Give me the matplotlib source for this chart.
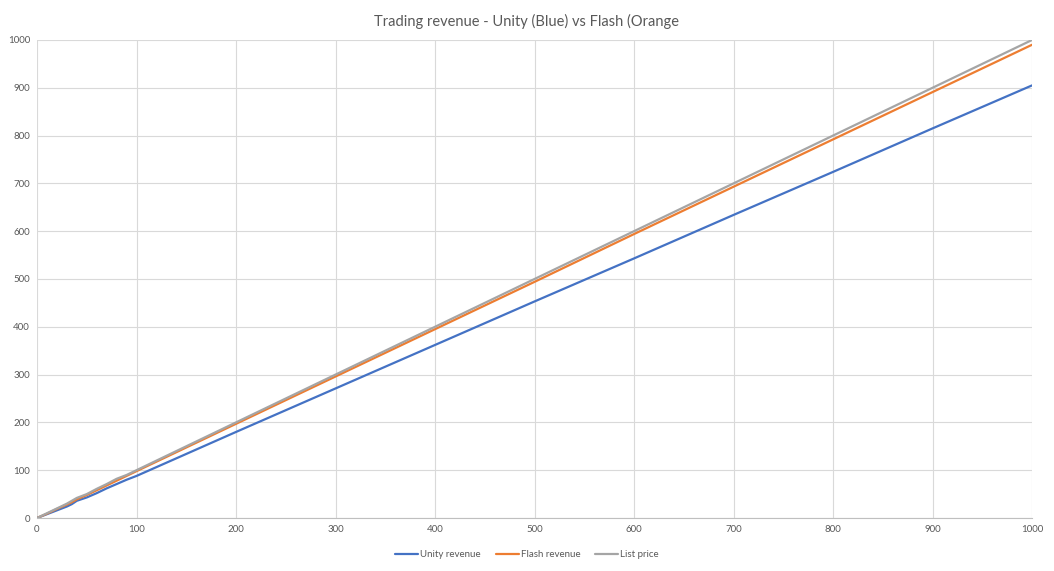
import matplotlib
matplotlib.use("Agg")
import matplotlib.pyplot as plt

# ---------------------------------------------------------------------
# Data
# ---------------------------------------------------------------------
x_vals = [0, 10, 20, 30, 35, 40, 50, 60, 70, 80, 90, 100,
          200, 300, 400, 500, 600, 700, 800, 900, 1000]
unity_rev = [0, 8, 16, 24, 29, 36, 43, 52, 62, 71, 80, 88,
             180, 271, 362, 453, 543, 634, 724, 815, 905]
flash_rev = [0, 9, 19, 28, 33, 39, 48, 58, 68, 78, 88, 98,
             197, 296, 395, 494, 594, 693, 792, 891, 990]
list_price = [0, 10, 20, 30, 36, 42, 50, 61, 71, 82, 90, 100,
              200, 300, 400, 500, 600, 700, 800, 900, 1000]

title = "Trading revenue - Unity (Blue) vs Flash (Orange"
labels = ["Unity revenue", "Flash revenue", "List price"]
colors = ["#4472C4", "#ED7D31", "#A5A5A5"]

# ---------------------------------------------------------------------
plt.rcParams["font.family"] = ["Lato", "DejaVu Sans"]

fig = plt.figure(figsize=(10.54, 5.71), dpi=100)
ax = fig.add_axes([37 / 1054, 1 - 518 / 571, (1032 - 37) / 1054, (518 - 40) / 571])

for ys, lab, c in zip([unity_rev, flash_rev, list_price], labels, colors):
    ax.plot(x_vals, ys, color=c, lw=1.6, label=lab, solid_capstyle="round")

ax.set_xlim(0, 1000); ax.set_ylim(0, 1000)
ax.set_xticks(range(0, 1001, 100)); ax.set_yticks(range(0, 1001, 100))
ax.grid(True, color="#D9D9D9", lw=0.8)
ax.set_axisbelow(True)
for s in ["top", "right", "left"]:
    ax.spines[s].set_visible(False)
ax.spines["bottom"].set_color("#BFBFBF")
ax.tick_params(length=0, labelsize=7, colors="#595959", pad=5)

fig.suptitle(title, y=0.975, fontsize=10.5, color="#595959")
fig.legend(loc="lower center", bbox_to_anchor=(0.5, 0.005), ncol=3, frameon=False,
           fontsize=7, labelcolor="#595959", handlelength=2.4, columnspacing=1.5,
           handletextpad=0.2)

fig.savefig("out.png", dpi=100)
